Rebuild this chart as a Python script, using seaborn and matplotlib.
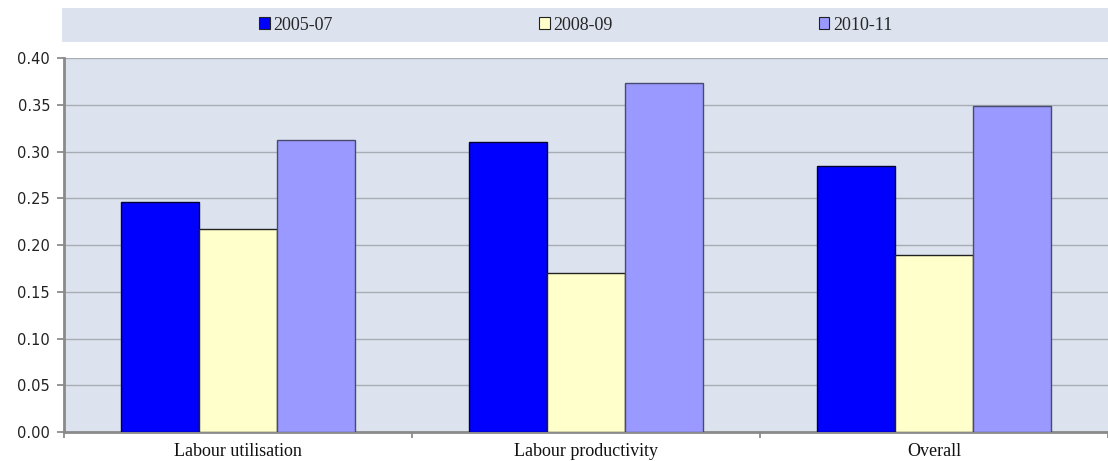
import matplotlib
matplotlib.use("Agg")
import matplotlib.pyplot as plt
from matplotlib.patches import Rectangle, Patch
import seaborn as sns
import pandas as pd

categories = ["Labour utilisation", "Labour productivity", "Overall"]
periods = ["2005-07", "2008-09", "2010-11"]
v_2005_07 = [0.246, 0.310, 0.284]
v_2008_09 = [0.217, 0.170, 0.189]
v_2010_11 = [0.312, 0.373, 0.349]
yticks = [0.00, 0.05, 0.10, 0.15, 0.20, 0.25, 0.30, 0.35, 0.40]

colors = ["#0000FF", "#FFFFCC", "#9999FF"]
edges = ["#000033", "#222222", "#4a4a70"]
bg = "#DCE3EE"

rows = []
for p, vals in zip(periods, [v_2005_07, v_2008_09, v_2010_11]):
    for c, v in zip(categories, vals):
        rows.append({"category": c, "period": p, "value": v})
df = pd.DataFrame(rows)

sns.set_theme(style="white")
fig = plt.figure(figsize=(11.08, 4.61), dpi=100)
ax = fig.add_axes([64/1108, 1 - 432/461, 1 - 64/1108, (432 - 58)/461])

sns.barplot(data=df, x="category", y="value", hue="period", order=categories,
            hue_order=periods, palette=colors, width=0.67, saturation=1,
            edgecolor="#111122", linewidth=1.0, ax=ax, legend=False, zorder=3)
for container, ec in zip(ax.containers, edges):
    for bar in container:
        bar.set_edgecolor(ec)

ax.set_facecolor(bg)
ax.set_ylim(0, 0.40)
ax.set_xlim(-0.5, 2.484)
ax.set_yticks(yticks)
ax.set_yticklabels([f"{t:.2f}" for t in yticks], fontsize=10.5, color="#222222",
                   family="DejaVu Sans")
ax.yaxis.grid(True, color="#a8acb4", linewidth=1.0, zorder=0)
ax.set_axisbelow(True)
ax.set_xlabel("")
ax.set_ylabel("")

ax.set_xticks([-0.5, 0.5, 1.5, 2.5])
ax.set_xticklabels(["", "", "", ""])
ax.set_xticks([0, 1, 2], minor=True)
ax.set_xticklabels(categories, minor=True, fontsize=13, family="Liberation Serif",
                   color="#111111")
ax.tick_params(axis="x", which="major", length=4, color="#888888", direction="out", bottom=True)
ax.tick_params(axis="x", which="minor", length=0, pad=8)
ax.tick_params(axis="y", length=5, color="#888888", direction="out", left=True, pad=5)

for s in ["top", "right"]:
    ax.spines[s].set_visible(False)
ax.spines["left"].set_color("#8a8a8a")
ax.spines["left"].set_linewidth(2.0)
ax.spines["bottom"].set_color("#8a8a8a")
ax.spines["bottom"].set_linewidth(2.0)

# legend band
fig.patches.append(Rectangle((62/1108, 1 - 42/461), 1 - 62/1108, 34/461,
                             transform=fig.transFigure, facecolor=bg,
                             edgecolor="none", zorder=0))
handles = [Patch(facecolor=c, edgecolor="#222222", linewidth=0.8) for c in colors]
fig.legend(handles, periods, loc="center left", bbox_to_anchor=(243/1108, 1 - 25/461),
           ncol=3, frameon=False, handlelength=0.6, handleheight=0.6,
           handletextpad=0.2, columnspacing=11.4,
           prop={"family": "Liberation Serif", "size": 13})

fig.savefig("out.png", dpi=100)
